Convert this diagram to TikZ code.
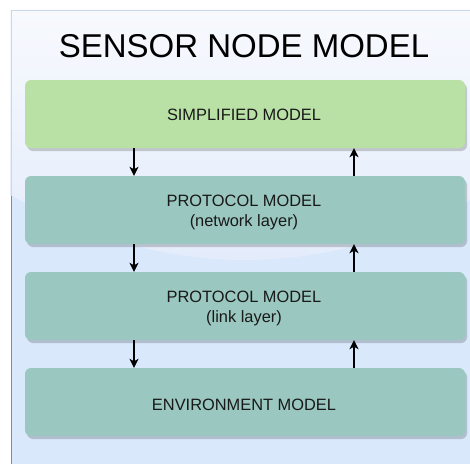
\documentclass[tikz,border=0pt]{standalone}
\usepackage{fontspec}
\setmainfont{Liberation Sans}
\usetikzlibrary{arrows.meta,shadows}
\definecolor{panelfill}{HTML}{DAE8FC}
\definecolor{panelline}{HTML}{6C8EBF}
\definecolor{glasstop}{HTML}{F7F9FD}
\definecolor{glassbottom}{HTML}{E2EBFB}
\definecolor{glassline}{HTML}{C9D6EC}
\definecolor{greenbox}{HTML}{B9E0A5}
\definecolor{tealbox}{HTML}{9AC7BF}
\begin{document}
\begin{tikzpicture}[x=1pt,y=-1pt,
  layerbox/.style={rectangle, rounded corners=6pt, minimum width=440pt,
    minimum height=68pt, inner sep=0pt, draw=none,
    drop shadow={shadow xshift=2pt, shadow yshift=-3pt, fill=black, opacity=0.18}},
  boxtext/.style={anchor=base, font=\fontsize{16.4}{19.5}\selectfont, text=black!90, inner sep=0pt},
  flow/.style={line width=1.25pt, -{Stealth[length=9pt,width=9pt,inset=2.5pt]}}]
\useasboundingbox (0,0) rectangle (470,463);

% container panel with its glossy upper part
\begin{scope}
  \clip (0,0) rectangle (470,463);
  \fill[panelfill] (11,10) rectangle (479,475);
  \draw[panelline, line width=1pt] (11,475) -- (11,10) -- (479,10);
  \shade[top color=glasstop, bottom color=glassbottom]
    (10.5,9.5) -- (10.5,195) .. controls (167,281.7) and (323,281.7) .. (479,195)
    -- (479,9.5) -- cycle;
  \draw[glassline, line width=1pt] (11,195) -- (11,10) -- (479,10);
\end{scope}

% title
\node[anchor=base, inner sep=0pt, font=\fontsize{33}{40}\selectfont] (title) at (244,57) {SENSOR NODE MODEL};

% layer boxes
\node[layerbox, fill=greenbox] (b1) at (245,114) {};
\node[layerbox, fill=tealbox]  (b2) at (245,210) {};
\node[layerbox, fill=tealbox]  (b3) at (245,306) {};
\node[layerbox, fill=tealbox]  (b4) at (245,402) {};

% labels
\node[boxtext] (t1)  at (244,120.5) {SIMPLIFIED MODEL};
\node[boxtext] (t2a) at (244,206.5) {PROTOCOL MODEL};
\node[boxtext] (t2b) at (244,226)   {(network layer)};
\node[boxtext] (t3a) at (244,302.5) {PROTOCOL MODEL};
\node[boxtext] (t3b) at (244,322)   {(link layer)};
\node[boxtext] (t4)  at (244,410)   {ENVIRONMENT MODEL};

% columns of the down and up connectors
\coordinate (dn) at (134,0);
\coordinate (up) at (354,0);

\draw[flow] (b1.south -| dn) -- (b2.north -| dn);
\draw[flow] (b2.north -| up) -- (b1.south -| up);
\draw[flow] (b2.south -| dn) -- (b3.north -| dn);
\draw[flow] (b3.north -| up) -- (b2.south -| up);
\draw[flow] (b3.south -| dn) -- (b4.north -| dn);
\draw[flow] (b4.north -| up) -- (b3.south -| up);
\end{tikzpicture}
\end{document}
